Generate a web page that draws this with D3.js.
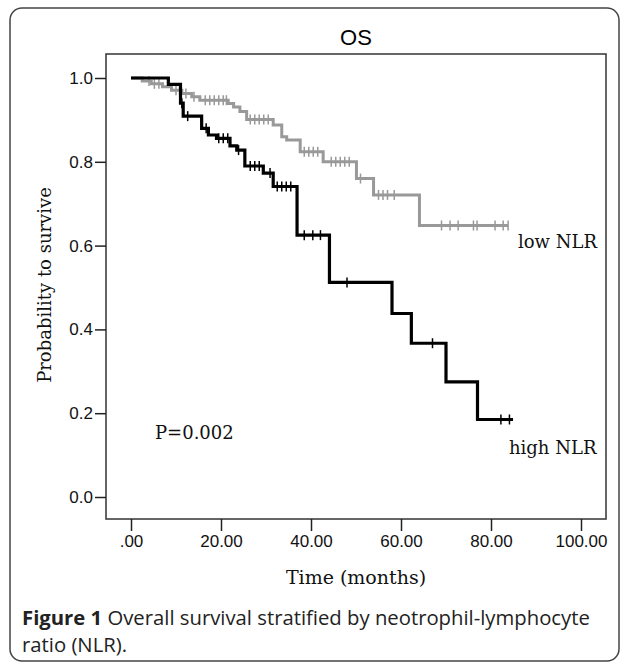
<!DOCTYPE html>
<meta charset="utf-8">
<style>
body { margin: 0; background: #fff; }
.axis text { font-family: "Liberation Sans", Arial, sans-serif; font-size: 17px; fill: #111; }
.axis line { stroke: #222; stroke-width: 1.5px; }
.axis path { display: none; }
.serif { font-family: "DejaVu Serif", serif; fill: #111; }
</style>
<svg width="627" height="664"></svg>
<script src="https://d3js.org/d3.v7.min.js"></script>
<script>

var svg = d3.select("svg");

// high NLR (black) : step times and survival after each step
var highTimes = [0, 8.3, 11.0, 11.6, 15.7, 17.2, 19.0, 22.0, 23.5, 25.3, 29.4, 31.6, 36.9, 44.1, 58.0, 62.3, 70.0, 77.0];
var highSurv  = [1.0, 0.985, 0.94, 0.909, 0.880, 0.864, 0.856, 0.838, 0.828, 0.790, 0.773, 0.741, 0.625, 0.512, 0.438, 0.367, 0.275, 0.185];
var highEnd = 84.9;
var highCensor = [11.3, 12.6, 16.7, 19.5, 20.5, 21.5, 23.9, 26.5, 27.5, 28.5, 30.9, 32.5, 33.5, 34.5, 35.5, 38.5, 40.4, 42.1, 48.0, 67.0, 82.2, 84.1];

// low NLR (gray)
var lowTimes = [0, 2.5, 4.5, 7.0, 9.0, 11.3, 13.5, 15.3, 21.6, 22.8, 24.2, 25.7, 31.6, 33.5, 34.6, 37.6, 42.7, 50.1, 53.9, 64.1];
var lowSurv  = [1.0, 0.993, 0.986, 0.979, 0.971, 0.963, 0.955, 0.947, 0.939, 0.931, 0.920, 0.901, 0.888, 0.860, 0.852, 0.824, 0.800, 0.760, 0.721, 0.648];
var lowEnd = 83.8;
var lowCensor = [4.0, 5.2, 6.2, 10.0, 10.8, 12.2, 14.0, 16.5, 17.5, 18.5, 19.5, 20.5, 21.2, 26.5, 27.5, 28.5, 29.5, 30.5, 38.5, 39.5, 40.5, 41.5, 44.5, 45.5, 46.5, 47.5, 48.5, 51.0, 55.0, 56.0, 57.0, 58.5, 69.0, 70.9, 72.7, 76.1, 76.9, 80.9, 82.7, 83.8];

var yTicks = [0, 0.2, 0.4, 0.6, 0.8, 1.0];
var xTicks = [0, 20, 40, 60, 80, 100];

var x = d3.scaleLinear().domain([0, 100]).range([131, 581]);
var y = d3.scaleLinear().domain([0, 1]).range([497, 78]);

// outer rounded box
svg.append("rect")
    .attr("x", 10).attr("y", 8).attr("width", 609).attr("height", 653)
    .attr("rx", 12)
    .attr("fill", "none").attr("stroke", "#444").attr("stroke-width", 1.5);

// plot frame
svg.append("rect")
    .attr("x", 106).attr("y", 54).attr("width", 500).attr("height", 465)
    .attr("fill", "none").attr("stroke", "#333").attr("stroke-width", 1.5);

svg.append("g")
    .attr("class", "axis")
    .attr("transform", "translate(106,0)")
    .call(d3.axisLeft(y).tickValues(yTicks).tickFormat(d3.format(".1f")).tickSize(11).tickPadding(2));

svg.append("g")
    .attr("class", "axis")
    .attr("transform", "translate(0,519)")
    .call(d3.axisBottom(x).tickValues(xTicks)
      .tickFormat(d => d === 0 ? ".00" : d3.format(".2f")(d)).tickSize(12).tickPadding(4));

function survAt(times, surv, t) {
  var i = d3.bisectRight(times, t) - 1;
  return surv[Math.max(i, 0)];
}

function drawCurve(times, surv, end, censor, color, width) {
  var pts = times.map((t, i) => [t, surv[i]]);
  pts.push([end, surv[surv.length - 1]]);
  var line = d3.line().x(d => x(d[0])).y(d => y(d[1])).curve(d3.curveStepAfter);
  svg.append("path")
      .datum(pts)
      .attr("d", line)
      .attr("fill", "none")
      .attr("stroke", color)
      .attr("stroke-width", width);
  svg.append("g").selectAll("line")
    .data(censor)
    .enter().append("line")
      .attr("x1", d => x(d)).attr("x2", d => x(d))
      .attr("y1", d => y(survAt(times, surv, d)) - 5)
      .attr("y2", d => y(survAt(times, surv, d)) + 5)
      .attr("stroke", color)
      .attr("stroke-width", 1.5);
}

drawCurve(lowTimes, lowSurv, lowEnd, lowCensor, "#999", 3);
drawCurve(highTimes, highSurv, highEnd, highCensor, "#000", 3.2);

svg.append("text")
    .attr("x", 356).attr("y", 45)
    .attr("text-anchor", "middle")
    .style("font-family", "Liberation Sans, Arial, sans-serif")
    .style("font-size", "22px")
    .text("OS");

svg.append("text").attr("class", "serif")
    .attr("transform", "translate(51,285) rotate(-90)")
    .attr("text-anchor", "middle")
    .style("font-size", "18px")
    .text("Probability to survive");

svg.append("text").attr("class", "serif")
    .attr("x", 356).attr("y", 584)
    .attr("text-anchor", "middle")
    .style("font-size", "19px")
    .text("Time (months)");

svg.append("text").attr("class", "serif")
    .attr("x", 155).attr("y", 439)
    .style("font-size", "18px")
    .text("P=0.002");

svg.append("text").attr("class", "serif")
    .attr("x", 518).attr("y", 248)
    .style("font-size", "18px")
    .text("low NLR");

svg.append("text").attr("class", "serif")
    .attr("x", 509).attr("y", 454)
    .style("font-size", "18px")
    .text("high NLR");

var cap = svg.append("g")
    .style("font-family", "Open Sans, sans-serif")
    .style("font-size", "20.3px")
    .style("fill", "#222");
var l1 = cap.append("text").attr("x", 22).attr("y", 625);
l1.append("tspan").style("font-weight", "bold").text("Figure 1");
l1.append("tspan").text(" Overall survival stratified by neotrophil-lymphocyte");
cap.append("text").attr("x", 22).attr("y", 652).text("ratio (NLR).");

</script>
